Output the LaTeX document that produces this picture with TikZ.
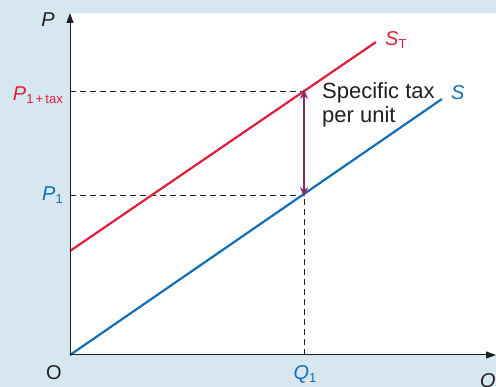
\documentclass[tikz,border=0pt]{standalone}
\usepackage{fontspec}
\setmainfont{Liberation Sans}
\usetikzlibrary{arrows.meta}
\definecolor{bgblue}{HTML}{D6E7F0}
\definecolor{sred}{HTML}{E01F3D}
\definecolor{sblue}{HTML}{126FB5}
\definecolor{tpurple}{HTML}{8E2A6B}
\definecolor{txt}{HTML}{231F20}
\newcommand{\subfont}{\fontsize{13}{15}\selectfont\upshape}
\begin{document}
\begin{tikzpicture}[x=1pt,y=-1pt,
  lbl/.style={font=\fontsize{20}{24}\selectfont, text=txt, inner sep=0pt},
  curve/.style={line width=2.2pt},
  guide/.style={dash pattern=on 6pt off 4pt, line width=0.8pt, draw=txt},
  axis/.style={line width=1pt, draw=txt, -{Triangle[length=10pt,width=7pt]}},
  taxarrow/.style={line width=1.3pt, draw=tpurple, {Stealth[length=10pt,width=8pt]}-{Stealth[length=10pt,width=8pt]}}]
\clip (0,0) rectangle (496,387);
\fill[bgblue] (0,0) rectangle (496,387);
\fill[white] (70,13) rectangle (496,355);
\coordinate (O) at (70,355);
\coordinate (ytop) at (70,13);
\coordinate (xend) at (496,355);
\coordinate (Send) at (442,99);
\coordinate (STstart) at (70,251);
\coordinate (STend) at (376,42);
\coordinate (A) at (304,91);
\coordinate (B) at (304,195);
\coordinate (Q1) at (304,355);
\coordinate (P1) at (70,195);
\coordinate (Ptax) at (70,91);
\draw[guide] (Ptax) -- (A);
\draw[guide] (P1) -- (B);
\draw[guide] (Q1) -- (A);
\draw[curve, sblue] (O) -- (Send);
\draw[curve, sred] (STstart) -- (STend);
\draw[taxarrow] ([yshift=2pt]A) -- ([yshift=-2pt]B);
\draw[axis] (O) -- (ytop);
\draw[axis] (O) -- (xend);
\node[lbl, anchor=base] (Plab) at (48,27) {\itshape P};
\node[lbl, anchor=base east, text=sred] (Ptaxlab) at (63,101) {\itshape P\subfont\raisebox{-3pt}{1\,+\,tax}};
\node[lbl, anchor=base east, text=sblue] (P1lab) at (63,201) {\itshape P\subfont\raisebox{-3pt}{1}};
\node[lbl, anchor=base] (Olab) at (54,380) {O};
\node[lbl, anchor=base, text=sblue] (Q1lab) at (305,380) {\itshape Q\subfont\raisebox{-3pt}{1}};
\node[lbl, anchor=base west] (Qlab) at (480,388) {\itshape Q};
\node[lbl, anchor=base west, text=sred] (STlab) at (385,46) {\itshape S\subfont\raisebox{-3pt}{T}};
\node[lbl, anchor=base west, text=sblue] (Slab) at (451,100) {\itshape S};
\node[anchor=base west, align=left, inner sep=0pt, text=txt, font=\fontsize{22}{24}\selectfont] (tax) at (322,123) {Specific tax\\per unit};
\end{tikzpicture}
\end{document}
